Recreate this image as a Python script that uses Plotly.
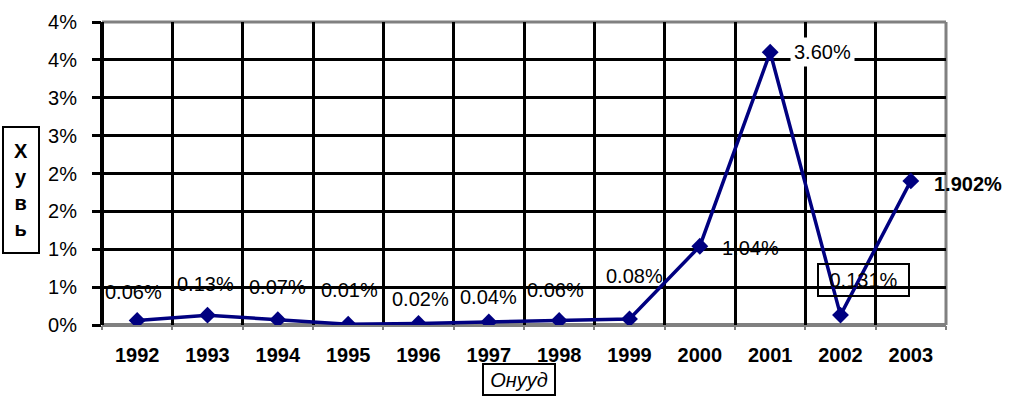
import plotly.graph_objects as go

years = ["1992", "1993", "1994", "1995", "1996", "1997", "1998", "1999", "2000", "2001", "2002", "2003"]
values = [0.06, 0.13, 0.07, 0.01, 0.02, 0.04, 0.06, 0.08, 1.04, 3.60, 0.131, 1.902]
value_labels = ["0.06%", "0.13%", "0.07%", "0.01%", "0.02%", "0.04%", "0.06%", "0.08%", "1.04%", "3.60%", "0.131%", "1.902%"]
y_tickvals = [0, 0.5, 1.0, 1.5, 2.0, 2.5, 3.0, 3.5, 4.0]
y_ticktext = ["0%", "1%", "1%", "2%", "2%", "3%", "3%", "4%", "4%"]

# label offsets in pixels relative to each point (style, not data)
label_shift = [(-4, 28), (-2, 31), (0, 33), (1, 34), (2, 24), (0, 25), (-4, 30),
               (5, 43), (51, -2), (52, 0), (23, 35), (57, -3)]

FONT = "Arial, Liberation Sans, sans-serif"
NAVY = "#000080"

fig = go.Figure()
fig.add_trace(go.Scatter(
    x=years, y=values, mode="lines+markers",
    line=dict(color=NAVY, width=3.5),
    marker=dict(symbol="diamond", size=13, color=NAVY),
    hoverinfo="skip", showlegend=False,
))

annotations = []
for i, (yr, v, lab) in enumerate(zip(years, values, value_labels)):
    dx, dy = label_shift[i]
    a = dict(x=i, y=v, xref="x", yref="y", text=lab, showarrow=False,
             xshift=dx, yshift=dy, font=dict(family=FONT, size=20, color="black"))
    if lab == "3.60%":
        a["bgcolor"] = "white"
        a["borderpad"] = 3
    if lab == "0.131%":
        a["bordercolor"] = "black"
        a["borderwidth"] = 2
        a["borderpad"] = 4
        a["width"] = 81
    if lab == "1.902%":
        a["text"] = "<b>" + lab + "</b>"
    annotations.append(a)

# axis titles with boxes
annotations.append(dict(
    x=-0.096, y=0.447, xref="paper", yref="paper", xanchor="center", yanchor="middle",
    text="<b>Х<br>у<br>в<br>ь</b>", showarrow=False, width=14, height=104,
    borderpad=10, bordercolor="black", borderwidth=2, bgcolor="white",
    font=dict(family=FONT, size=20, color="black"),
))
annotations.append(dict(
    x=0.494, y=-0.18, xref="paper", yref="paper", xanchor="center", yanchor="middle",
    text="<i>Онууд</i>", showarrow=False, width=66, height=25,
    borderpad=2, bordercolor="black", borderwidth=2, bgcolor="white",
    font=dict(family=FONT, size=20, color="black"),
))

shapes = [
    dict(type="line", xref="x domain", yref="y domain", x0=0, x1=1, y0=1, y1=1,
         line=dict(color="#808080", width=3), layer="below"),
    dict(type="line", xref="x domain", yref="y domain", x0=1, x1=1, y0=0, y1=1,
         line=dict(color="#808080", width=3), layer="below"),
    dict(type="line", xref="x domain", yref="y domain", x0=0, x1=1, y0=0, y1=0,
         line=dict(color="#808080", width=4), layer="below"),
    dict(type="line", xref="x domain", yref="y domain", x0=0, x1=0, y0=0, y1=1,
         line=dict(color="black", width=4), layer="below"),
]

fig.update_layout(
    width=1029, height=402,
    margin=dict(l=102, r=83, t=22, b=77),
    paper_bgcolor="white", plot_bgcolor="white",
    font=dict(family=FONT, size=20, color="black"),
    annotations=annotations, shapes=shapes,
    xaxis=dict(
        type="category", categoryorder="array", categoryarray=years,
        range=[-0.5, len(years) - 0.5], autorange=False,
        tickson="boundaries", showgrid=True, tickangle=0,
        gridcolor="black", gridwidth=3,
        ticks="outside", ticklen=4, tickwidth=2, tickcolor="#808080",
        tickfont=dict(family=FONT, size=20, color="black", weight="bold"),
        ticklabelstandoff=16, showline=False, zeroline=False,
    ),
    yaxis=dict(
        range=[0, 4], autorange=False, tickvals=y_tickvals, ticktext=y_ticktext,
        showgrid=True, gridcolor="black", gridwidth=3,
        ticks="outside", ticklen=9, tickwidth=3, tickcolor="black",
        tickfont=dict(family=FONT, size=20, color="black"),
        ticklabelstandoff=11, showline=False, zeroline=False,
    ),
)

fig.write_html(
    "out.html",
    config={"displayModeBar": False},
    post_script="document.body.style.margin='0';document.body.style.overflow='hidden';",
)
